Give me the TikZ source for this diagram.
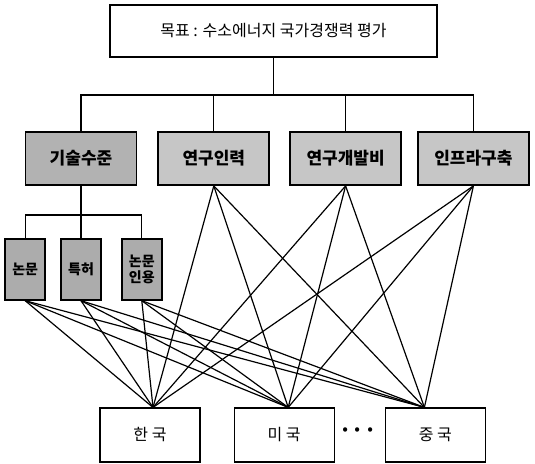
\documentclass[tikz,border=0pt]{standalone}
\usepackage{fontspec}
\setmainfont{Noto Sans CJK KR}
\usepackage{tikz}
\usetikzlibrary{positioning, calc}

\tikzset{
	goalbox/.style={draw, line width=1.2pt, fill=white, minimum width=327pt, minimum height=52pt, inner sep=0pt, font=\fontsize{16}{16}\selectfont},
	critbox/.style={draw, line width=1.8pt, fill=gray!45, minimum width=111pt, minimum height=53pt, inner sep=0pt, font=\fontsize{17}{17}\selectfont\bfseries},
	subbox/.style={draw, line width=1.8pt, fill=gray!65, minimum width=40pt, minimum height=61pt, inner sep=0pt, align=center, font=\fontsize{14}{16}\selectfont\bfseries},
	nation/.style={draw, line width=1.2pt, fill=white, minimum width=100pt, minimum height=54pt, inner sep=0pt, font=\fontsize{16}{16}\selectfont},
	link/.style={line width=1.2pt}
}

\begin{document}
\begin{tikzpicture}[x=1pt, y=-1pt]
					\useasboundingbox (0,0) rectangle (535,463);
					\node[goalbox] (goal) at (273.5,31) {목표 : 수소에너지 국가경쟁력 평가};
					\node[critbox, fill=gray!60] (tech) at (81,158.5) {기술수준};
					\node[critbox, right=20pt of tech] (staff) {연구인력};
					\node[critbox, right=19pt of staff] (fund) {연구개발비};
					\node[critbox, right=15pt of fund] (infra) {인프라구축};
					\node[subbox, below=52pt of tech] (patent) {특허};
					\node[subbox, left=14pt of patent] (paper) {논문};
					\node[subbox, right=19pt of patent] (cite) {논문\\인용};
					\node[nation] (kr) at (150,435) {한 국};
					\node[nation, right=33pt of kr] (us) {미 국};
					\node[nation, right=50pt of us] (cn) {중 국};
					\node[font=\fontsize{20}{20}\selectfont\bfseries] (dots) at (358,433) {···};
					
					\coordinate (bus) at (0,95);
					\coordinate (subbus) at (0,215);
					\coordinate (krin) at ([xshift=3pt]kr.north);
					\coordinate (usin) at ([xshift=4pt]us.north);
					\coordinate (cnin) at ([xshift=-11pt]cn.north);
					
					\draw[link] (goal.south) -- (goal.south |- bus);
					\draw[link] (tech.north) |- (infra.north |- bus) -- (infra.north);
					\draw[link] (staff.north) -- (staff.north |- bus);
					\draw[link] (fund.north) -- (fund.north |- bus);
					\draw[link] (tech.south) -- (patent.north);
					\draw[link] (paper.north) |- (cite.north |- subbus) -- (cite.north);
					
					\draw[link]
					(paper.south) edge (krin)
						edge (usin)
						edge (cnin)
					(patent.south) edge (krin)
						edge (usin)
						edge (cnin)
					(cite.south) edge (krin)
						edge (usin)
						edge (cnin)
					(staff.south) edge (krin)
						edge (usin)
						edge (cnin)
					(fund.south) edge (krin)
						edge (usin)
						edge (cnin)
					(infra.south) edge (krin)
						edge (usin)
						edge (cnin);
				\end{tikzpicture}
\end{document}
